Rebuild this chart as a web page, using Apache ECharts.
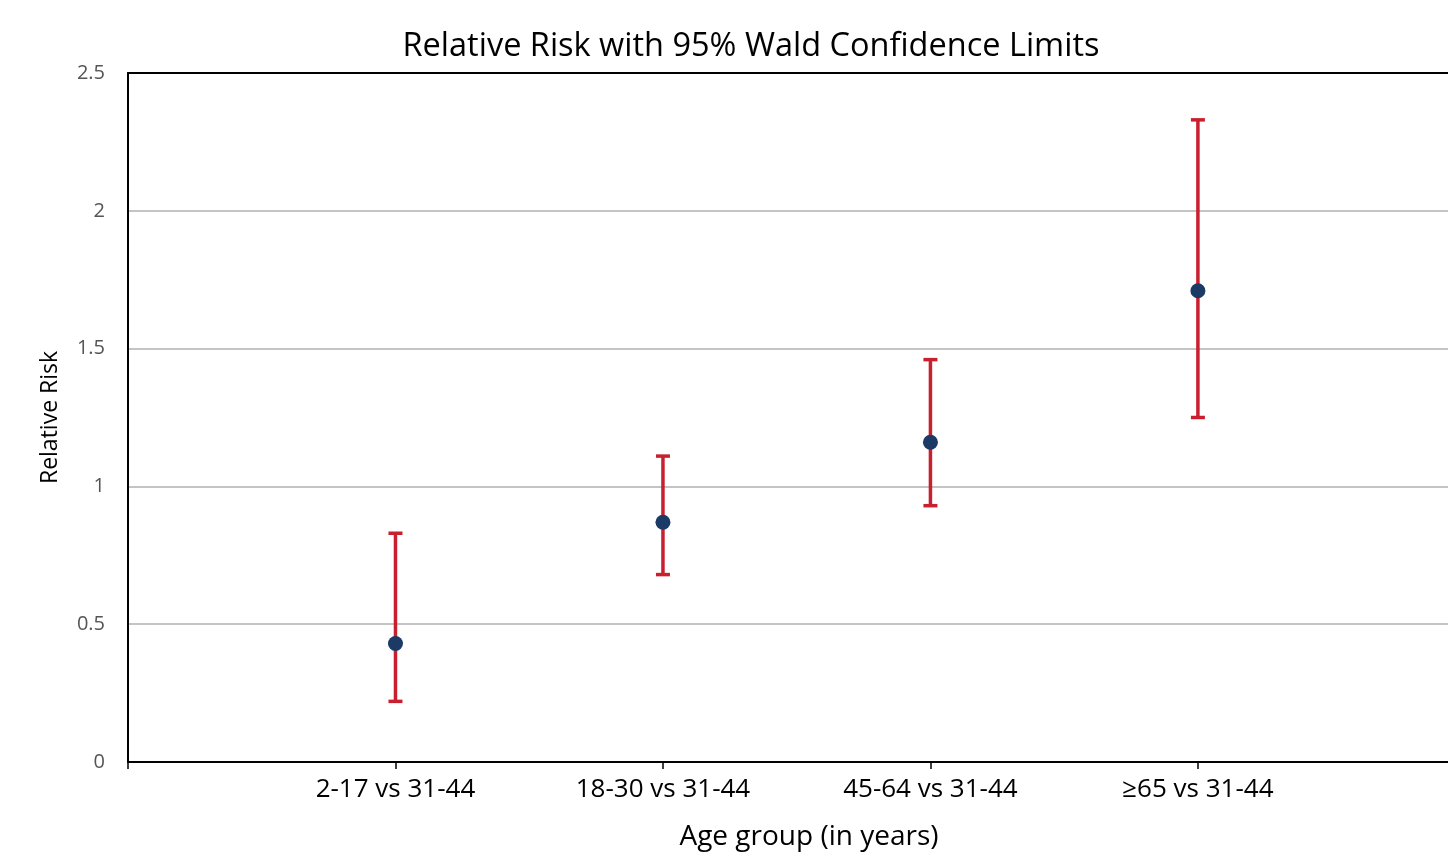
<!DOCTYPE html>
<html>
<head>
<meta charset="utf-8">
<script src="https://cdn.jsdelivr.net/npm/echarts@6/dist/echarts.min.js"></script>
<style>
  html, body { margin: 0; padding: 0; background: #fff; }
  #chart { width: 1448px; height: 853px; }
</style>
</head>
<body>
<div id="chart"></div>
<script>
// data
const categories = ['2-17 vs 31-44', '18-30 vs 31-44', '45-64 vs 31-44', '≥65 vs 31-44'];
const relRisk = [0.43, 0.87, 1.16, 1.71];
const lowerCL = [0.22, 0.68, 0.93, 1.25];
const upperCL = [0.83, 1.11, 1.46, 2.33];

const fontFamily = '"Open Sans", "Noto Sans", sans-serif';

const barData = categories.map((c, i) => [i + 1, lowerCL[i], upperCL[i]]);
const pointData = categories.map((c, i) => [i + 1, relRisk[i]]);

const chart = echarts.init(document.getElementById('chart'));

chart.setOption({
  animation: false,
  title: {
    text: 'Relative Risk with 95% Wald Confidence Limits',
    left: 746,
    textAlign: 'center',
    top: 25,
    textStyle: { fontFamily, fontSize: 32.5, fontWeight: 'normal', color: '#000' }
  },
  grid: { left: 128, right: 0, top: 73, bottom: 91, outerBoundsMode: 'none' },
  xAxis: [
    {
      type: 'value',
      min: 0,
      max: 4.935,
      interval: 1,
      name: 'Age group (in years)',
      nameLocation: 'middle',
      nameGap: 61,
      nameTextStyle: { fontFamily, fontSize: 28, color: '#000', padding: [0, 0, 0, 42] },
      axisLine: { show: true, lineStyle: { color: '#000', width: 2 } },
      axisTick: { show: true, length: 7, lineStyle: { color: '#000', width: 1.5 } },
      splitLine: { show: false },
      axisLabel: {
        showMaxLabel: false,
        margin: 15,
        fontFamily, fontSize: 26, color: '#000',
        formatter: (v) => (v >= 1 && v <= categories.length ? categories[v - 1] : '')
      }
    },
    {
      type: 'value',
      position: 'top',
      min: 0,
      max: 4.935,
      axisLine: { show: true, lineStyle: { color: '#000', width: 2 } },
      axisTick: { show: false },
      axisLabel: { show: false },
      splitLine: { show: false }
    }
  ],
  yAxis: {
    type: 'value',
    min: 0,
    max: 2.5,
    interval: 0.5,
    name: 'Relative Risk',
    nameLocation: 'middle',
    nameGap: 66,
    nameTextStyle: { fontFamily, fontSize: 23, color: '#000' },
    axisLine: { show: true, lineStyle: { color: '#000', width: 2 } },
    axisTick: { show: false },
    axisLabel: { margin: 23, fontFamily, fontSize: 20, color: '#555' },
    splitLine: { show: true, lineStyle: { color: '#b0b0b0', width: 1.5 } }
  },
  series: [
    {
      type: 'custom',
      data: barData,
      z: 2,
      renderItem: (params, api) => {
        const x = api.value(0);
        const lo = api.coord([x, api.value(1)]);
        const hi = api.coord([x, api.value(2)]);
        const half = 7;
        const style = { stroke: '#c8202f', lineWidth: 3.5 };
        return {
          type: 'group',
          children: [
            { type: 'line', shape: { x1: lo[0], y1: lo[1], x2: hi[0], y2: hi[1] }, style },
            { type: 'line', shape: { x1: hi[0] - half, y1: hi[1], x2: hi[0] + half, y2: hi[1] }, style },
            { type: 'line', shape: { x1: lo[0] - half, y1: lo[1], x2: lo[0] + half, y2: lo[1] }, style }
          ]
        };
      }
    },
    {
      type: 'scatter',
      data: pointData,
      z: 3,
      symbol: 'circle',
      symbolSize: 15,
      itemStyle: { color: '#1b3a66', opacity: 1 }
    }
  ]
});
</script>
</body>
</html>
